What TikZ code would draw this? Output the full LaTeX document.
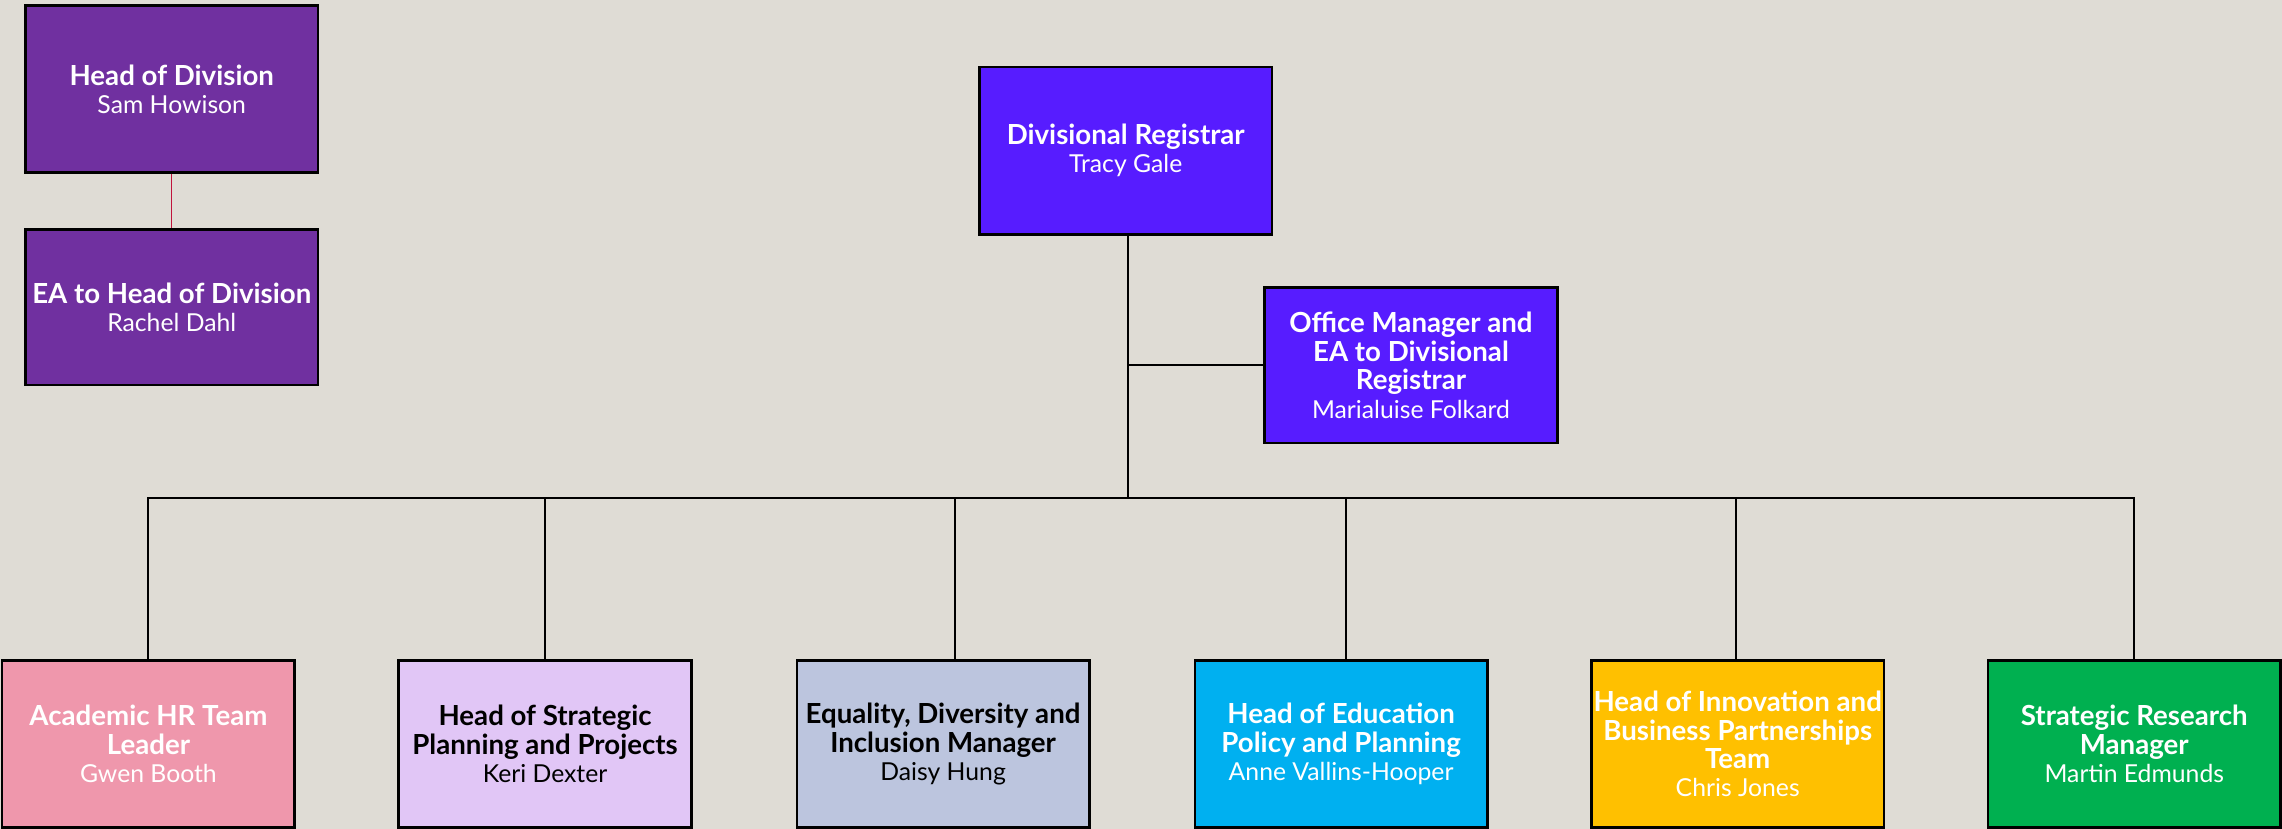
\documentclass[tikz,border=0pt]{standalone}
\usepackage{fontspec}
\setmainfont{Lato}
\definecolor{bgc}{HTML}{DFDCD5}
\definecolor{cpurple}{HTML}{7030A0}
\definecolor{cblue}{HTML}{571CFF}
\definecolor{cpink}{HTML}{EF97AC}
\definecolor{clav}{HTML}{E1C6F6}
\definecolor{cgrey}{HTML}{BCC5DE}
\definecolor{ccyan}{HTML}{00B0F0}
\definecolor{cgold}{HTML}{FFC000}
\definecolor{cgreen}{HTML}{00B050}
\definecolor{cred}{HTML}{C0143C}
\newcommand{\ttl}[1]{{\fontsize{19}{19.5}\selectfont\bfseries #1}}
\begin{document}
\begin{tikzpicture}[x=1pt,y=-1pt,
  box/.style={draw=black, line width=1.8pt, rectangle, inner sep=0pt,
    minimum width=201pt, align=center,
    font=\fontsize{17}{19.5}\selectfont},
  tall/.style={minimum height=115pt},
  short/.style={minimum height=107pt},
  link/.style={draw=black, line width=1.4pt},
  redlink/.style={draw=cred, line width=1pt}]
\fill[bgc] (0,0) rectangle (1568,569.6);
\useasboundingbox (0,0) rectangle (1568,569.6);

\node[box, tall, fill=cpurple, text=white] (hod) at (118,61.2) {\ttl{Head of Division}\\Sam Howison};
\node[box, short, fill=cpurple, text=white] (ea) at (118,211) {\ttl{EA to Head of Division}\\Rachel Dahl};
\node[box, tall, fill=cblue, text=white] (reg) at (773.5,103.5) {\ttl{Divisional Registrar}\\Tracy Gale};
\node[box, short, fill=cblue, text=white] (off) at (969.5,251) {\ttl{Office Manager and}\\\ttl{EA to Divisional}\\\ttl{Registrar}\\Marialuise Folkard};

\node[box, minimum height=114.5pt, fill=cpink, text=white] (hr) at (102,511.25) {\ttl{Academic HR Team}\\\ttl{Leader}\\Gwen Booth};
\node[box, minimum height=114.5pt, fill=clav, text=black] (sp) at (374.5,511.25) {\ttl{Head of Strategic}\\\ttl{Planning and Projects}\\Keri Dexter};
\node[box, minimum height=114.5pt, fill=cgrey, text=black] (edi) at (648,511.25) {\ttl{Equality, Diversity and}\\\ttl{Inclusion Manager}\\Daisy Hung};
\node[box, minimum height=114.5pt, fill=ccyan, text=white] (edu) at (921.5,511.25) {\ttl{Head of Education}\\\ttl{Policy and Planning}\\Anne Vallins-Hooper};
\node[box, minimum height=114.5pt, fill=cgold, text=white] (inn) at (1194,511.25) {\ttl{Head of Innovation and}\\\ttl{Business Partnerships}\\\ttl{Team}\\Chris Jones};
\node[box, minimum height=114.5pt, fill=cgreen, text=white] (srm) at (1466.5,511.25) {\ttl{Strategic Research}\\\ttl{Manager}\\Martin Edmunds};

\coordinate (bus) at (774.8,342);
\draw[redlink] (hod.south) -- (ea.north);
\draw[link] ([xshift=1.3pt]reg.south) -- (bus);
\draw[link] ([xshift=1.3pt]reg.south |- off.west) -- (off.west);
\draw[link] (bus) -| (hr.north);
\draw[link] (bus) -| (sp.north);
\draw[link] (bus) -| ([xshift=8pt]edi.north);
\draw[link] (bus) -| ([xshift=3.5pt]edu.north);
\draw[link] (bus) -| ([xshift=-1pt]inn.north);
\draw[link] (bus) -| (srm.north);
\end{tikzpicture}
\end{document}
